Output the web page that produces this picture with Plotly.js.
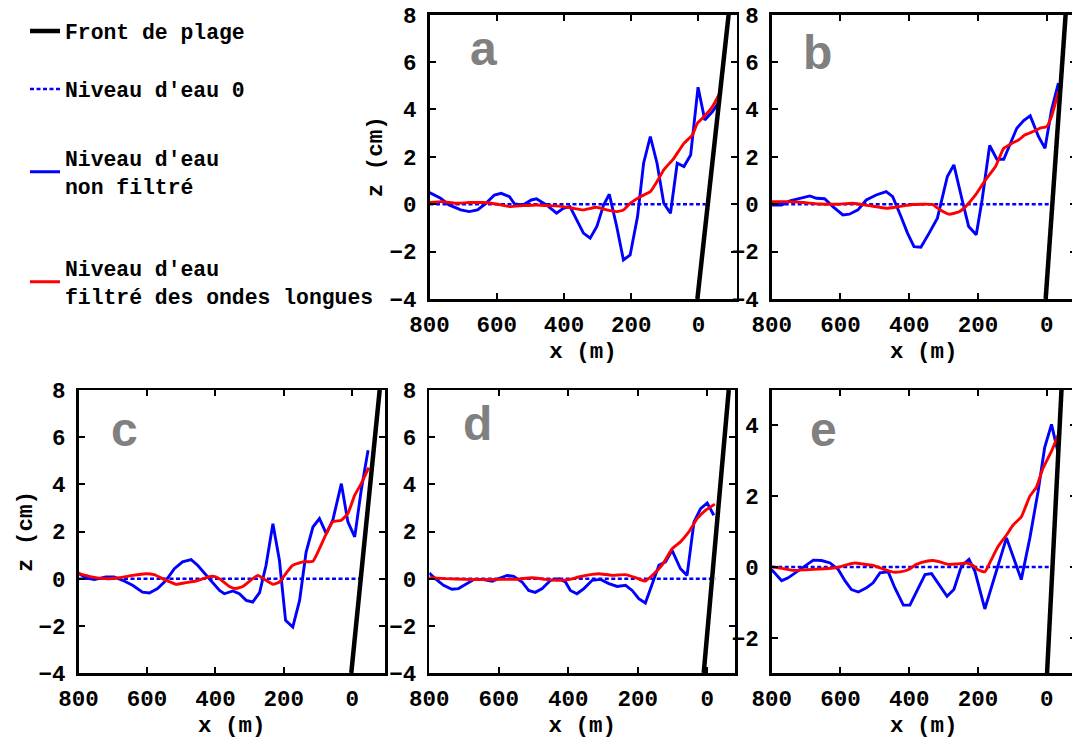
<!DOCTYPE html>
<html><head><meta charset="utf-8">
<script src="https://cdn.plot.ly/plotly-3.0.1.min.js"></script>
<style>html,body{margin:0;padding:0;overflow:hidden;background:#fff}#chart{width:1080px;height:770px}</style>
</head><body><div id="chart"></div>
<script>
// ---- Panel a ----
const aBlueX = [800,767,742,707,682,657,632,607,587,562,547,522,497,482,452,422,402,382,362,342,322,302,282,265,243,223,203,181,163,143,123,103,83,63,43,23,1,-19,-42,-62];
const aBlueZ = [0.49,0.25,-0.03,-0.24,-0.31,-0.24,0.04,0.39,0.46,0.32,0.01,-0.03,0.18,0.23,-0.03,-0.38,-0.17,-0.10,-0.66,-1.22,-1.43,-0.94,-0.03,0.42,-0.94,-2.35,-2.14,-0.52,1.73,2.86,1.73,0.04,-0.38,1.73,1.59,2.08,4.94,3.56,3.91,4.33];
const aRedX = [800,762,722,682,642,602,562,522,482,442,402,373,343,303,273,243,223,203,173,143,123,103,73,43,18,3,-17,-42,-62];
const aRedZ = [0.08,0.11,0.04,0.07,0.07,0.01,-0.10,-0.06,-0.03,-0.06,-0.10,-0.17,-0.24,-0.13,-0.24,-0.31,-0.24,0.04,0.32,0.53,0.96,1.45,1.94,2.57,2.92,3.42,3.70,4.12,4.64];
// ---- Panel b ----
const bBlueX = [800,771,747,718,689,670,646,622,593,574,549,525,496,467,448,424,405,386,366,342,318,289,270,246,227,205,188,166,145,125,106,87,67,48,24,5,-14,-34];
const bBlueZ = [-0.03,-0.03,0.14,0.25,0.35,0.25,0.23,-0.10,-0.45,-0.42,-0.24,0.18,0.39,0.53,0.32,-0.52,-1.22,-1.79,-1.81,-1.22,-0.59,1.17,1.66,0.18,-0.94,-1.29,0.18,2.48,1.90,1.90,2.57,3.21,3.53,3.73,2.86,2.36,3.98,5.11];
const bRedX = [800,757,708,660,612,564,516,467,429,390,333,313,284,255,236,207,178,149,125,101,82,63,39,19,0,-14,-34];
const bRedZ = [0.11,0.11,0.07,0.01,0,0.04,-0.06,-0.17,-0.10,-0.01,-0.01,-0.21,-0.42,-0.32,-0.10,0.39,1.03,1.59,2.36,2.57,2.71,2.93,3.07,3.21,3.28,3.70,4.75];
// ---- Panel c ----
const cBlueX = [800,779,754,720,696,671,642,613,593,569,544,520,496,471,452,427,408,388,374,349,330,310,291,271,252,232,213,195,174,154,135,115,96,76,57,32,13,-7,-26,-46];
const cBlueZ = [0.24,0.03,-0.04,0.07,0.07,-0.07,-0.28,-0.57,-0.61,-0.42,-0.07,0.42,0.71,0.81,0.57,0.14,-0.14,-0.50,-0.64,-0.52,-0.64,-0.92,-0.99,-0.59,0.57,2.33,0.78,-1.77,-2.05,-0.92,1.13,2.19,2.55,1.91,2.48,4.03,2.41,1.77,3.75,5.45];
const cRedX = [800,769,720,681,642,603,579,544,515,486,457,427,408,388,359,340,320,291,276,252,232,213,193,174,144,115,96,76,57,32,13,-7,-26,-48];
const cRedZ = [0.21,0.10,0,0.04,0.14,0.21,0.17,-0.07,-0.24,-0.17,-0.10,0.04,0.10,0,-0.33,-0.42,-0.33,0,0.14,-0.07,-0.24,-0.14,0.24,0.57,0.71,0.74,1.27,1.91,2.41,2.48,2.76,3.54,4.03,4.71];
// ---- Panel d ----
const dBlueX = [800,783,759,735,716,696,672,648,619,600,576,557,533,514,495,475,451,427,408,394,375,355,331,307,283,259,235,216,197,178,158,139,120,101,77,58,38,19,0,-19];
const dBlueZ = [0.24,0,-0.28,-0.45,-0.42,-0.24,-0.04,-0.03,-0.11,0,0.14,0.10,-0.14,-0.50,-0.58,-0.42,-0.07,0,-0.14,-0.50,-0.64,-0.42,-0.07,-0.03,-0.21,-0.33,-0.28,-0.50,-0.85,-1.03,-0.21,0.57,0.71,1.20,0.42,0.14,2.41,2.97,3.21,2.69];
const dRedX = [800,754,696,648,600,553,504,466,427,399,370,331,312,274,235,206,178,158,130,101,77,53,29,5,-22];
const dRedZ = [0.04,0,-0.03,-0.04,-0.03,-0.03,0.04,-0.03,-0.07,-0.04,0.07,0.18,0.21,0.14,0.17,0.04,-0.10,0.14,0.57,1.27,1.56,1.98,2.55,2.90,3.16];
// ---- Panel e ----
const eBlueX = [800,771,752,727,703,679,655,630,606,587,568,548,524,505,485,461,442,417,398,379,354,335,311,290,270,248,226,209,180,161,137,117,98,74,49,25,6,-14,-33];
const eBlueZ = [-0.08,-0.39,-0.31,-0.14,0.02,0.19,0.18,0.11,-0.08,-0.39,-0.64,-0.71,-0.59,-0.45,-0.17,-0.14,-0.59,-1.08,-1.08,-0.69,-0.22,-0.19,-0.55,-0.83,-0.64,0.02,0.21,-0.12,-1.19,-0.59,0.16,0.82,0.30,-0.36,0.82,2.14,3.37,4.03,3.23];
const eRedX = [800,766,737,698,660,621,601,577,558,534,505,476,446,427,403,379,350,330,311,287,262,233,214,200,180,166,141,117,98,74,49,30,11,-14,-38];
const eRedZ = [0,-0.05,-0.10,-0.08,-0.06,-0.03,0,0.07,0.11,0.08,0.04,-0.06,-0.15,-0.14,-0.08,0.07,0.16,0.18,0.14,0.07,0.08,0.11,0.04,-0.08,-0.14,0.11,0.58,0.90,1.18,1.41,2.00,2.25,2.78,3.27,3.84];
// ---- Front de plage (shoreline) and zero level, per panel a..e ----
const frontX = [[3,-90],[3,-55],[3,-80],[10,-62],[-1,-43]];
const frontZ = [[-4,8],[-4,8],[-4,8],[-4,8],[-3,5]];
const zeroX = [[800,-22],[800,-14],[800,-26],[800,-24],[800,-14]];
const zeroZ = [0,0];
const panelLetters = ['a','b','c','d','e'];
const legendNames = ['Front de plage', "Niveau d'eau 0", "Niveau d'eau<br>non filtré", "Niveau d'eau<br>filtré des ondes longues"];
const xTitle = 'x (m)';
const yTitle = 'z (cm)';

const blues = [[aBlueX,aBlueZ],[bBlueX,bBlueZ],[cBlueX,cBlueZ],[dBlueX,dBlueZ],[eBlueX,eBlueZ]];
const reds = [[aRedX,aRedZ],[bRedX,bRedZ],[cRedX,cRedZ],[dRedX,dRedZ],[eRedX,eRedZ]];

const W = 1080, H = 770;
const px = v => v / W, py = v => 1 - v / H;
// panel boxes in pixels: [left, right, top, bottom]
const boxes = [[429.5,736.7,14.7,299],[771.7,1076,14.7,299],[78.5,385,390,673],[429.3,735,390,673],[771.7,1076,390,673]];
const xRanges = [[800,-114],[800,-85.2],[800,-95.5],[800,-80],[800,-85.2]];
const yRanges = [[-4,8],[-4,8],[-4,8],[-4,8],[-3,5]];
const yTitleStandoff = [1,0,0,0,0];
const xTitleStandoff = [5,5,1,1,1];

const monoFont = {family:'Liberation Mono, Courier New, monospace', size:22.5, color:'#000', weight:'bold'};
const traces = [];
const layout = {
  width: W, height: H, margin:{l:0,r:0,t:0,b:0},
  paper_bgcolor:'#fff', plot_bgcolor:'#fff', showlegend:true, annotations:[]
};
for (let i=0;i<5;i++){
  const sx = i===0?'':String(i+1);
  const xa = 'x'+sx, ya = 'y'+sx;
  const b = boxes[i];
  traces.push({x:zeroX[i], y:zeroZ, xaxis:xa, yaxis:ya, mode:'lines', name:legendNames[1], legend:'legend2', showlegend:i===0,
    line:{color:'#0000ff', width:2.5, dash:'4px,2.5px'}, hoverinfo:'skip'});
  traces.push({x:blues[i][0], y:blues[i][1], xaxis:xa, yaxis:ya, mode:'lines', name:legendNames[2], legend:'legend3', showlegend:i===0,
    line:{color:'#0000ff', width:2.9}});
  traces.push({x:reds[i][0], y:reds[i][1], xaxis:xa, yaxis:ya, mode:'lines', name:legendNames[3], legend:'legend4', showlegend:i===0,
    line:{color:'#ff0000', width:2.9, shape:'spline', smoothing:0.4}});
  traces.push({x:frontX[i], y:frontZ[i], xaxis:xa, yaxis:ya, mode:'lines', name:legendNames[0], legend:'legend', showlegend:i===0,
    line:{color:'#000', width:4.5}});
  const common = {showgrid:false, zeroline:false, showline:true, linecolor:'#000', linewidth:2.5, mirror:'ticks',
    ticks:'inside', ticklen:6, tickwidth:2, tickcolor:'#000', tickfont:monoFont, fixedrange:true};
  layout['xaxis'+sx] = Object.assign({}, common, {anchor:ya, domain:[px(b[0]),px(b[1])], range:xRanges[i],
    tick0:0, dtick:200, ticklabelstandoff:3, title:{text:xTitle, font:monoFont, standoff:xTitleStandoff[i]}});
  layout['yaxis'+sx] = Object.assign({}, common, {anchor:xa, domain:[py(b[3]),py(b[2])], range:yRanges[i],
    tick0:0, dtick:2, ticklabelstandoff:6,
    title:(i===0||i===2)?{text:yTitle, font:monoFont, standoff:yTitleStandoff[i]}:{text:''}});
}
// panel letters
const letterPos = [[483,48],[817,52],[124,429],[477,423],[823,429]];
for (let i=0;i<5;i++){
  layout.annotations.push({text:panelLetters[i], xref:'paper', yref:'paper', x:px(letterPos[i][0]), y:py(letterPos[i][1]),
    xanchor:'center', yanchor:'middle', showarrow:false,
    font:{family:'Liberation Sans, Arial, sans-serif', size:48, color:'#808080', weight:'bold'}});
}
const legFont = {family:'Liberation Mono, Courier New, monospace', size:21.4, color:'#000', weight:'bold'};
const legY = [31,89,172,282];
['legend','legend2','legend3','legend4'].forEach((k,j)=>{
  layout[k] = {x:px(25), y:py(legY[j]), xanchor:'left', yanchor:'middle', font:legFont, bgcolor:'rgba(0,0,0,0)', borderwidth:0, valign:'middle'};
});
Plotly.newPlot('chart', traces, layout, {displayModeBar:false, staticPlot:true});
</script></body></html>
